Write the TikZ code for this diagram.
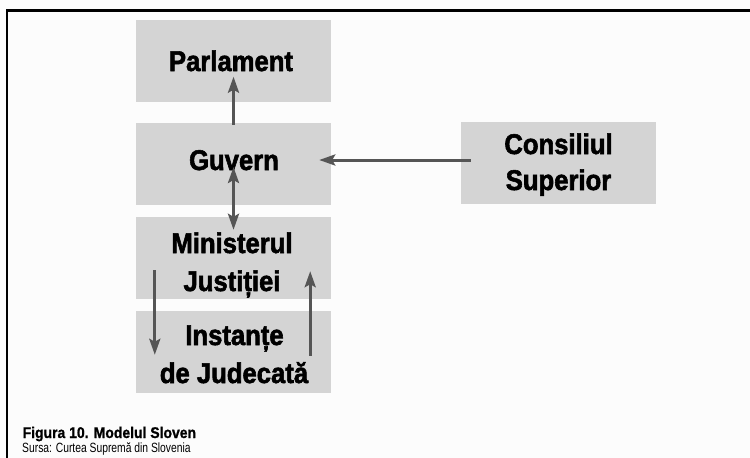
\documentclass[tikz,border=0pt]{standalone}
\usepackage{fontspec}
\setmainfont{Liberation Sans}
\newfontfamily\condb{Liberation Sans Bold}[FakeStretch=0.9,FakeBold=2]
\newfontfamily\capb{Liberation Sans Bold}[FakeStretch=0.9,FakeBold=1]
\newfontfamily\capr{Liberation Sans}[FakeStretch=0.77]
\usetikzlibrary{arrows.meta}
\definecolor{boxgray}{HTML}{D4D4D4}
\definecolor{arrgray}{HTML}{555555}
\definecolor{bgcol}{HTML}{FCFCFC}
\begin{document}
\begin{tikzpicture}[x=1pt,y=-1pt,
  box/.style={fill=boxgray, minimum width=195pt, minimum height=82pt, inner sep=0pt},
  lbl/.style={anchor=base, inner sep=0pt, font=\condb\fontsize{28.5}{38}\selectfont},
  arr/.style={draw=arrgray, line width=3pt, -{Stealth[length=16pt,width=11pt,inset=3pt]}},
  darr/.style={draw=arrgray, line width=3pt, {Stealth[length=16pt,width=11pt,inset=3pt]}-{Stealth[length=16pt,width=11pt,inset=3pt]}},
  frame/.style={draw=black, line width=2.5pt}]
\fill[bgcol] (0,0) rectangle (750,458);
\useasboundingbox (0,0) rectangle (750,458);
\draw[frame] (7,458) -- (7,10.5) -- (750,10.5);
\node[box] (p) at (233.5,60.5) {};
\node[box] (g) at (233.5,164) {};
\node[box] (m) at (233.5,258) {};
\node[box] (i) at (233.5,352) {};
\node[box] (c) at (558.5,163) {};
\node[lbl] (pt) at (231,71) {Parlament};
\node[lbl] (gt) at (234,170) {Guvern};
\node[lbl] (mt1) at (232,253) {Ministerul};
\node[lbl] (mt2) at (232,291) {Justiției};
\node[lbl] (it1) at (234.5,345) {Instanțe};
\node[lbl] (it2) at (234,383) {de Judecată};
\node[lbl] (ct1) at (558.5,154) {Consiliul};
\node[lbl] (ct2) at (558.5,190) {Superior};
\draw[arr] ([yshift=-2pt]g.north) -- ([yshift=25pt]p.south);
\draw[darr] ([yshift=-3pt]g.center) -- ([yshift=-13pt]m.north);
\draw[arr] ([xshift=10pt,yshift=3pt]c.west) -- ([xshift=-12pt,yshift=4pt]g.east);
\draw[arr] ([xshift=19pt,yshift=29pt]m.south west) -- ([xshift=19pt,yshift=-44pt]i.north west);
\draw[arr] ([xshift=-21pt,yshift=-45pt]i.north east) -- ([xshift=-21pt,yshift=28pt]m.south east);
\node[anchor=base west, inner sep=0pt, font=\capb\fontsize{15.5}{18}\selectfont] (cap) at (22.5,438) {Figura 10. Modelul Sloven};
\node[anchor=base west, inner sep=0pt, font=\capr\fontsize{13.4}{15}\selectfont] (src) at (22,452) {Sursa: Curtea Supremă din Slovenia};
\end{tikzpicture}
\end{document}
